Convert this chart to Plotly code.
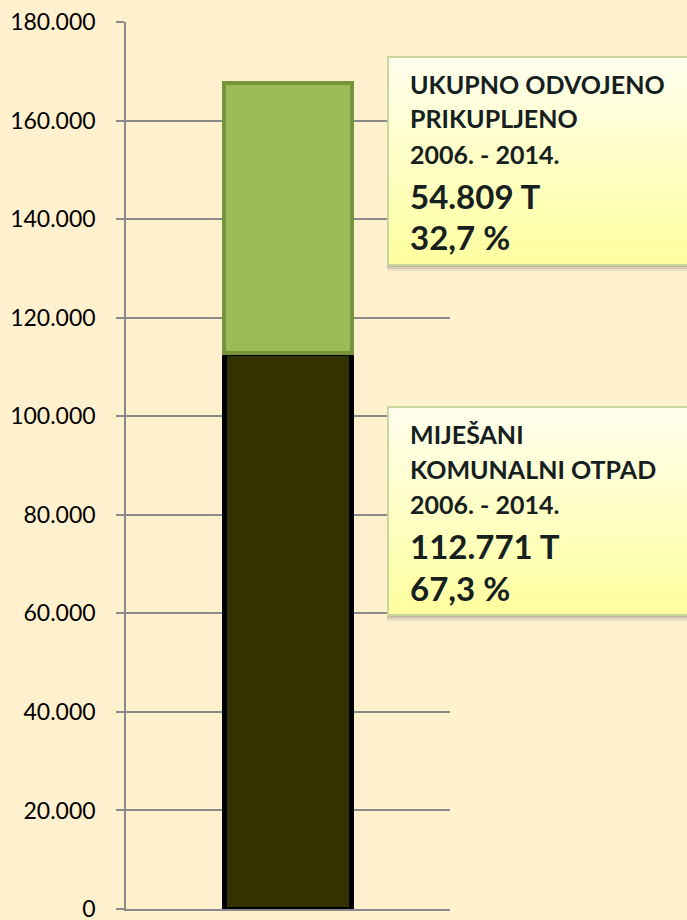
import plotly.graph_objects as go

# ---- data ----
categories = ["2006. - 2014."]
mixed_waste = [112771]        # MIJEŠANI KOMUNALNI OTPAD (T)
separate_collected = [54809]  # UKUPNO ODVOJENO PRIKUPLJENO (T)
tick_values = [0, 20000, 40000, 60000, 80000, 100000, 120000, 140000, 160000, 180000]
box1_lines = ["UKUPNO ODVOJENO", "PRIKUPLJENO", "2006. - 2014.", "54.809 T", "32,7 %"]
box2_lines = ["MIJEŠANI", "KOMUNALNI OTPAD", "2006. - 2014.", "112.771 T", "67,3 %"]

W, H = 687, 920
ML, MR, MT, MB = 126, 237, 22, 11
PW, PH = W - ML - MR, H - MT - MB

def px(x):
    return (x - ML) / PW

def py(y):
    return (H - MB - y) / PH

BG = "#FFF0CE"
GRID = "#8A8A8A"
TXT = "#16201E"

fig = go.Figure()
fig.add_trace(go.Bar(x=[0], y=mixed_waste, width=0.395, name="Miješani",
                     marker=dict(color="#333300", line=dict(color="#000000", width=5))))
fig.add_trace(go.Bar(x=[0], y=separate_collected, width=0.395, name="Odvojeno",
                     marker=dict(color="#9BBB59", line=dict(color="#77933C", width=4))))

shapes = []
annotations = []

def add_box(top, bottom, lines, centers, sizes):
    left, right = 388, 700
    # shadow
    for off, op in [(6, 0.10), (4, 0.15), (2, 0.2)]:
        shapes.append(dict(type="rect", xref="paper", yref="paper",
                           x0=px(left - 1), x1=px(right), y0=py(bottom + off), y1=py(top + off),
                           fillcolor=f"rgba(90,90,90,{op})", line=dict(width=0), layer="above"))
    # gradient
    n = 40
    c0 = (255, 255, 238)
    c1 = (255, 255, 160)
    h = (bottom - top) / n
    for i in range(n):
        t = i / (n - 1)
        c = tuple(int(round(c0[k] + (c1[k] - c0[k]) * t)) for k in range(3))
        shapes.append(dict(type="rect", xref="paper", yref="paper",
                           x0=px(left), x1=px(right), y0=py(top + (i + 1) * h + 0.5), y1=py(top + i * h),
                           fillcolor="rgb(%d,%d,%d)" % c, line=dict(width=0), layer="above"))
    shapes.append(dict(type="rect", xref="paper", yref="paper",
                       x0=px(left), x1=px(right), y0=py(bottom), y1=py(top),
                       fillcolor="rgba(0,0,0,0)", line=dict(color="#C9D89A", width=2), layer="above"))
    for txt, cy, sz in zip(lines, centers, sizes):
        annotations.append(dict(xref="paper", yref="paper", x=px(408), y=py(cy),
                                xanchor="left", yanchor="middle", text="<b>%s</b>" % txt,
                                showarrow=False,
                                font=dict(family="Lato", size=sz, color=TXT, weight=900)))

sizes = [25, 25, 25, 33, 33]
add_box(57, 265, box1_lines, [84, 118, 154, 196, 237], sizes)
add_box(407, 615, box2_lines, [434, 469, 504, 546, 588], sizes)

fig.update_layout(
    width=W, height=H,
    margin=dict(l=ML, r=MR, t=MT, b=MB, autoexpand=False),
    paper_bgcolor=BG, plot_bgcolor=BG,
    barmode="stack", showlegend=False,
    separators=",.",
    shapes=shapes, annotations=annotations,
    xaxis=dict(range=[-0.5, 0.5], showticklabels=False, showgrid=False, zeroline=False,
               showline=True, linecolor=GRID, linewidth=1.5, fixedrange=True),
    yaxis=dict(range=[0, 180000], tickvals=tick_values, tickformat=",d",
               showgrid=True, gridcolor=GRID, gridwidth=1.5, zeroline=False,
               showline=True, linecolor=GRID, linewidth=1.5,
               ticks="outside", ticklen=8, tickcolor=GRID, tickwidth=1.5,
               ticklabelstandoff=16, ticklabeloverflow="allow", automargin=False,
               tickfont=dict(family="Lato", size=23, color="#000000")),
)

fig.write_html("out.html")
